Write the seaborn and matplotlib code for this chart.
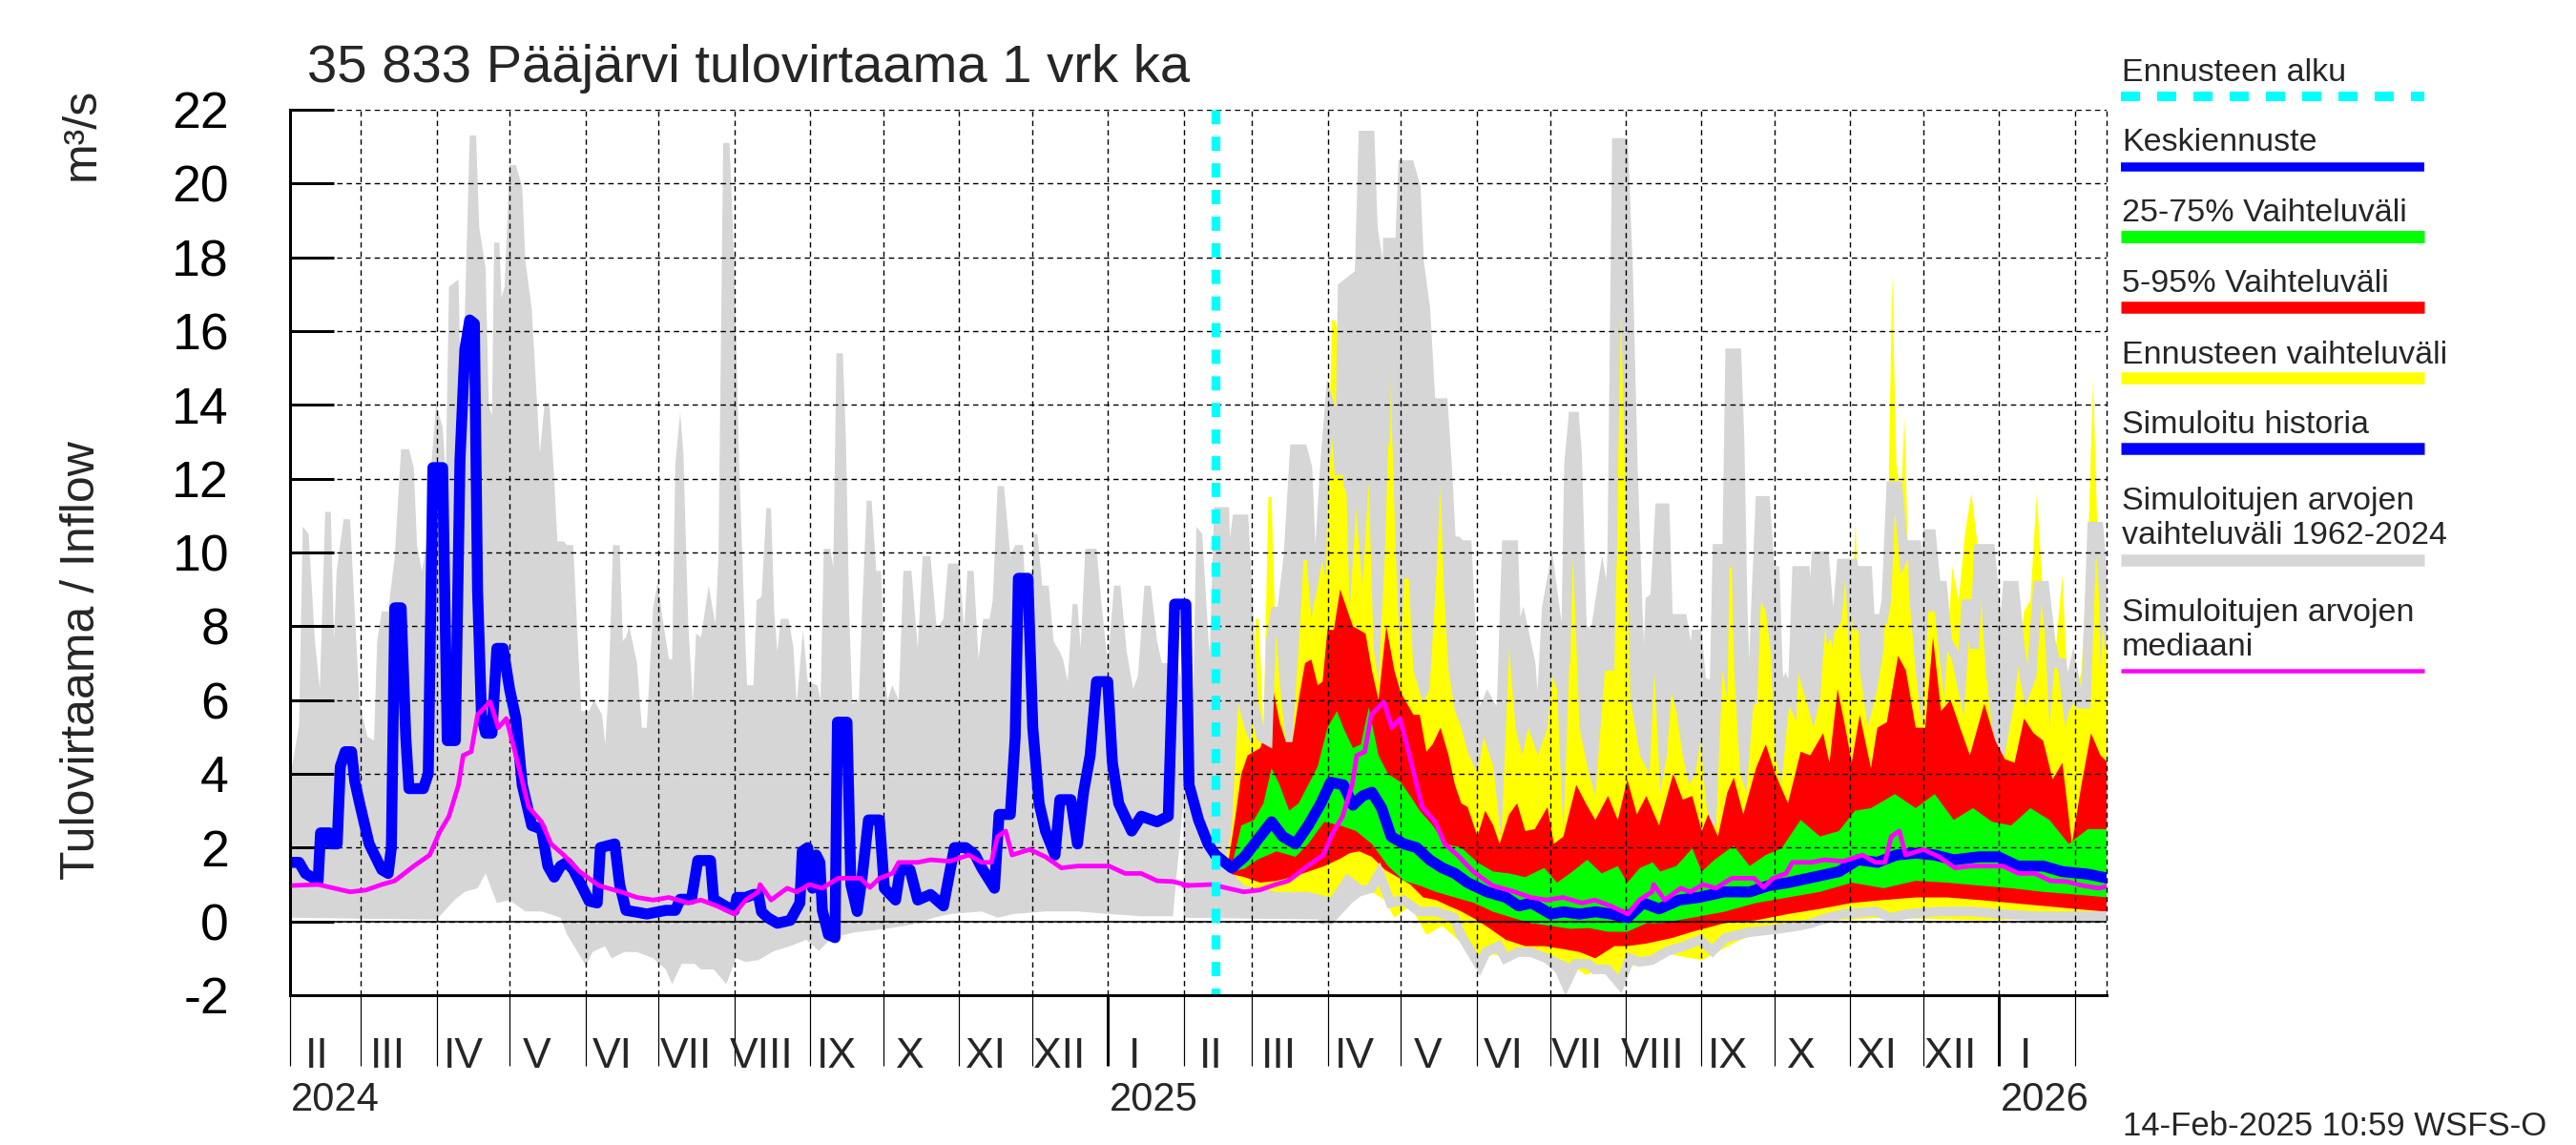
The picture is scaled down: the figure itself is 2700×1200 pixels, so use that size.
import numpy as np
import pandas as pd
import matplotlib
matplotlib.use("Agg")
import matplotlib.pyplot as plt
import matplotlib.dates as mdates
from matplotlib.lines import Line2D
import seaborn as sns

# ---------------- DATA ----------------
# Climatology 1962-2024 (day offset from 1 Feb), same for every year
clim_start_years = ["2024-02-01", "2025-02-01"]
clim_up_day = [0, 3.7, 5.2, 7.6, 10.2, 12.2, 14.4, 16.7, 18, 19.1, 21.9, 24.6, 26.5, 28.5, 31.7, 34.4, 35.7, 37.6, 40.2, 42.9,
               45.5, 48.7, 50.7, 52, 54, 55.9, 57.9, 59.8, 62.5, 63.8, 65.1, 69, 70, 71.6, 73.6, 76.2, 77.5, 80.1, 81.4, 82.7,
               83.6, 85.7, 86.6, 87.9, 89.9, 92.5, 95.1, 96.4, 99, 102.3, 104.3, 106.2, 108.2, 109.5, 112.1, 113.4, 116, 118,
               119.3, 122.5, 124.5, 127.8, 129.1, 130.4, 132.3, 135, 136.3, 137.6, 138.9, 142.1, 144.1, 146.1, 148.7, 150.6,
               152.6, 155.2, 156.5, 157.8, 159.8, 161.1, 163.1, 165, 166.3, 168.3, 171.5, 174.2, 175.5, 177.4, 180, 182, 184,
               186, 187.2, 189.8, 191.1, 193.1, 195.1, 197, 198.3, 199.6, 200.9, 204.2, 206.2, 207.5, 210.1, 212, 216, 217.3,
               218.6, 221.2, 222.5, 223.8, 226.4, 227.7, 229, 230.3, 233, 234.3, 236.2, 238.2, 240.1, 242.1, 243.4, 244.7,
               246.7, 249.3, 251.2, 254.5, 257.1, 259.1, 262.3, 264.9, 267.6, 269.5, 274.1, 276.1, 277.4, 280, 282, 283.9,
               286.5, 287.8, 289.8, 292.4, 295, 297, 300.2, 302.2, 304.8, 306.1, 308.1, 310.7, 312.7, 315.3, 316.6, 318.5,
               320.5, 322.5, 323.8, 325.7, 330.3, 332.2, 334.9, 337.5, 340.1, 342.7, 345.3, 347.3, 349.9, 352.5, 355.1,
               357.1, 359.7, 361.6, 364.3, 366.9, 369.5, 372.1, 374.7, 377.3, 379.3, 381.2]
clim_up_val = [3.9, 5.3, 10.7, 10.5, 7.6, 6.3, 11.1, 11.1, 7.6, 9.5, 10.9, 10.9, 8.4, 5.9, 5.0, 4.9, 7.6, 8.4, 8.4, 9.9,
               12.8, 12.8, 12.3, 10.2, 9.5, 10.2, 12.4, 14.0, 13.4, 12.1, 17.2, 17.4, 14.3, 16.5, 21.3, 21.3, 18.8, 17.7, 14.0, 13.7,
               18.4, 18.4, 16.9, 17.2, 20.5, 20.5, 19.9, 17.9, 16.6, 12.7, 14.05, 14.05, 12.0, 10.3, 10.3, 10.2, 10.2, 7.4,
               5.7, 5.7, 6.0, 5.6, 4.8, 6.2, 10.2, 10.2, 7.6, 7.7, 8.0, 7.0, 5.25, 5.25, 8.5, 9.2,
               8.2, 7.1, 7.1, 12.4, 13.8, 12.7, 8.05, 5.9, 7.8, 7.7, 9.1, 8.05, 9.9, 21.1, 21.1, 17.7, 12.3,
               8.4, 6.4, 6.4, 8.7, 8.8, 11.2, 11.2, 8.4, 7.3, 8.2, 8.2, 7.4, 5.9, 7.9, 6.5, 6.4, 6.0,
               10.1, 10.1, 9.6, 15.4, 15.4, 13.0, 8.4, 5.9, 6.0, 8.4, 11.4, 11.4, 9.5, 9.5, 6.8, 6.0,
               6.4, 6.0, 9.5, 9.5, 7.4, 9.9, 9.9, 7.9, 8.2, 9.7, 9.7, 7.9, 9.5, 9.5, 7.1, 8.2,
               8.2, 8.7, 11.8, 11.8, 9.9, 10.2, 10.2, 7.7, 10.5, 10.5, 9.1, 9.1, 7.6, 7.3, 7.1, 6.5,
               8.6, 8.6, 7.4, 10.1, 10.1, 8.7, 7.0, 9.1, 9.1, 7.3, 6.3, 6.65, 9.1, 9.1, 7.6,
               7.0, 7.0, 6.0, 6.8, 5.9, 5.9, 10.7, 10.7, 8.7, 7.4, 11.1]
clim_lo_day = [0, 57, 60, 67.7, 71.6, 76.8, 80.1, 84.7, 89.9, 96.4, 103, 110.8, 113.4, 121.2, 123.9, 129, 131.7, 136.9,
               142.1, 148.7, 153.9, 156.5, 160.4, 165.7, 168.3, 173.5, 178.7, 182.7, 186.6, 191.8, 198.3, 204.9, 211.4,
               216.6, 221.8, 231, 244, 251.9, 257.1, 263.7, 270.2, 283.3, 289.8, 296.3, 309.4, 322.5, 335.5, 348.6,
               361.6, 381.2]
clim_lo_val = [0.1, 0.05, 0.05, 0.6, 0.8, 0.9, 1.3, 0.5, 0.58, 0.27, 0.27, 0.1, -0.35, -1.2, -0.83, -0.67, -1.0, -0.83,
               -0.83, -1.0, -1.3, -1.7, -1.15, -1.15, -1.3, -1.3, -1.7, -1.0, -1.1, -1.05, -0.8, -0.67, -0.5,
               -0.8, -0.45, -0.3, -0.2, -0.12, -0.05, 0.1, 0.2, 0.27, 0.1, 0.2, 0.27, 0.27, 0.2, 0.14,
               0.14, 0.15]
clim_med_day = [0, 11.5, 24.6, 31.1, 37.6, 42.9, 50.7, 57.2, 61.1, 65.1, 69, 70.9, 74.2, 76.8, 82, 85.3, 88.6, 92.5, 97.7,
                103, 106.9, 112.1, 118.6, 126.5, 135.6, 142.1, 148.7, 155.2, 163.1, 168.3, 174.8, 182, 186.6, 191.8, 192.5,
                197, 203.6, 207.5, 212.7, 217.9, 224.5, 233.6, 237.5, 241.4, 246.7, 249.3, 257.1, 262.3, 270.2, 278, 283.3,
                287.2, 289.8, 293.1, 295.7, 302.9, 309.4, 315.9, 322.5, 329, 335.5, 342, 348.6, 355.1, 361.6, 368.2, 374.7,
                381.2]
clim_med_val = [0.97, 1.0, 0.8, 0.85, 1.0, 1.1, 1.5, 1.8, 2.4, 2.85, 3.7, 4.5, 4.6, 5.6, 5.95, 5.25, 5.5, 4.5, 3.1,
                2.7, 2.1, 1.8, 1.35, 0.97, 0.8, 0.65, 0.58, 0.65, 0.5, 0.58, 0.42, 0.2, 0.58, 0.8, 1.0,
                0.58, 0.9, 0.8, 1.0, 0.9, 1.17, 1.17, 0.92, 1.17, 1.3, 1.6, 1.6, 1.67, 1.63, 1.8, 1.6,
                1.6, 2.3, 2.45, 1.8, 1.95, 1.75, 1.45, 1.5, 1.5, 1.5, 1.3, 1.3, 1.1, 1.08, 0.97, 0.9,
                1.0]

# Simulated history (day offset from 1 Feb 2024)
hist_start = "2024-02-01"
hist_day = [0, 3.7, 6.3, 10.2, 11.5, 12.5, 16.1, 16.7, 19.3, 20.6, 22.6, 25.2, 26.5, 28.5, 32.4, 37.6, 40.2, 41.5, 42.9,
            45.5, 47.4, 48.7, 52, 54.6, 56.6, 58.5, 62.5, 64.4, 67.7, 69.6, 71.6, 73.6, 75.5, 76.8, 78.4, 80.1, 82.7, 84.7,
            87.3, 89.9, 92.5, 95.1, 99, 103, 105.6, 108.2, 110.8, 113.4, 116, 119.9, 122.5, 125.8, 127.1, 133, 135, 137.6,
            142.1, 146.1, 153.9, 157.8, 159.8, 164.4, 167, 172.2, 173.5, 178.7, 182, 183, 186.6, 189.8, 191.8, 193.1,
            195.7, 199.6, 204.9, 208.8, 209.8, 212, 214, 215.5, 217, 218, 220.5, 223.2, 224.2, 228.1, 229.7, 232.3, 234.3,
            236.9, 241.4, 243.4, 248, 249.9, 253.9, 257.1, 262.3, 267.6, 272.1, 276.7, 280.6, 283.3, 288.5, 290.4, 295,
            297, 298.3, 302.2, 304.2, 306.8, 309.4, 313.3, 315.3, 319.8, 322.5, 325, 327.7, 330.3, 334.9, 336.8, 339.4,
            344.7, 348.6, 355.1, 359.7, 362.3, 366.9, 368.2, 372.1, 376, 379]
hist_val = [1.6, 1.6, 1.3, 1.15, 1.1, 2.4, 2.4, 2.1, 2.1, 4.2, 4.6, 4.6, 3.8, 3.2, 2.1, 1.4, 1.3, 2.0, 8.5,
            8.5, 5.0, 3.6, 3.6, 3.6, 4.0, 12.3, 12.3, 4.9, 4.9, 12.5, 15.5, 16.3, 16.2, 9.0, 5.6, 5.1, 5.1, 7.4,
            7.4, 6.3, 5.5, 3.7, 2.6, 2.5, 1.5, 1.2, 1.5, 1.6, 1.4, 0.9, 0.55, 0.5, 2.0, 2.1, 1.0, 0.3,
            0.25, 0.2, 0.3, 0.3, 0.6, 0.6, 1.65, 1.65, 0.6, 0.4, 0.3, 0.65, 0.65, 0.73, 0.73, 0.26,
            0.1, -0.05, 0.03, 0.5, 1.9, 2.0, 0.9, 1.8, 1.6, 0.3, -0.36, -0.44, 5.4, 5.4, 1.0, 0.27, 1.2,
            2.75, 2.75, 0.9, 0.58, 1.4, 1.4, 0.58, 0.73, 0.42, 2.0, 2.0, 1.8, 1.45, 0.9, 2.9, 2.9,
            5.0, 9.3, 9.3, 5.25, 3.2, 2.45, 1.8, 3.3, 3.3, 2.1, 3.5, 4.5, 6.5, 6.5, 4.3, 3.2,
            2.45, 2.85, 2.7, 2.85, 8.6, 8.6, 3.7, 2.75, 2.1, 1.8]

# Forecast (day offset from 14 Feb 2025)
fc_start = "2025-02-14"
yel_hi_day = [0, 4.1, 6.7, 9.3, 11.9, 14.5, 16.5, 17.8, 19.7, 21.7, 23, 24.3, 26.3, 28.9, 31.5, 34.1, 36.1, 37.4, 39.3,
              41.3, 43.2, 45.2, 46.5, 47.8, 49.1, 51.1, 52.4, 53.7, 55, 57.6, 60.2, 62.8, 64.8, 66.8, 69.4, 71.6, 73.9,
              75.9, 77.2, 79.2, 81.1, 85.1, 87.7, 90.3, 92.2, 93.5, 95.5, 98.1, 100.7, 103.3, 107.3, 109.9, 113.8, 117.1,
              120.3, 122.9, 125.6, 128.2, 132.1, 136, 138, 139.9, 142.5, 146.5, 149.1, 153, 155.6, 159.5, 163.4, 166.1,
              168, 170, 173.9, 177.8, 179.8, 182.2, 184.9, 186.8, 188.8, 191.4, 194, 196.6, 198.6, 201.2, 203.1, 205.1,
              207.7, 209.7, 211, 212.5, 214.9, 217.5, 221.4, 223.4, 225.4, 227.3, 229.3, 231.9, 234.5, 238.4, 242.3,
              244.9, 247.6, 250.2, 252.8, 256.1, 258, 260, 262.2, 263.9, 267.2, 271.1, 273.7, 275.7, 277.2, 278.9,
              280.9, 282.2, 284.1, 286.8, 289.4, 292, 294.6, 298.5, 301.8, 304.4, 307, 309.6, 312.2, 315.5, 318.1,
              320.7, 323.3, 327.3, 331.2, 333.8, 336.4, 339, 341.6, 344.2, 346.9, 349.5, 352.1, 354.7, 357.3, 359.5,
              361.2, 362.5, 364.5, 365.5]
yel_hi_val = [1.8, 1.67, 2.45, 5.9, 5.25, 4.8, 8.2, 8.2, 5.1, 11.5, 11.5, 8.4, 6.5, 4.8, 4.9, 7.4, 9.8, 9.8, 8.2,
              9.0, 9.9, 9.3, 13.0, 16.3, 16.3, 15.7, 11.8, 11.6, 8.4, 11.2, 9.1, 11.9, 7.4, 6.5, 9.9, 14.9, 9.9,
              6.8, 9.3, 9.3, 6.8, 5.9, 6.3, 9.1, 11.8, 9.1, 6.8, 5.7, 5.25, 4.6, 4.0, 5.0, 4.2, 2.2,
              7.4, 5.25, 4.5, 5.25, 4.5, 5.25, 6.65, 6.3, 2.4, 9.9, 5.25, 4.0, 3.4, 6.8, 6.8, 16.5,
              11.5, 6.0, 4.5, 4.0, 6.8, 3.5, 4.5, 6.2, 5.7, 4.5, 3.7, 4.0, 4.9, 3.07, 2.6, 2.6,
              6.8, 6.0, 11.2, 6.8, 4.0, 3.5, 6.8, 8.7, 8.4, 7.4, 4.5, 3.7, 5.6, 6.8, 5.9,
              5.25, 6.0, 8.4, 7.4, 9.8, 9.3, 6.8, 10.9, 6.8, 5.25, 6.3, 7.4, 11.5, 17.55, 12.4,
              11.5, 13.7, 8.85, 6.8, 5.25, 8.4, 8.4, 6.0, 9.6, 8.7, 10.5, 11.6, 10.2, 6.8, 5.25,
              4.3, 4.5, 6.0, 8.4, 8.7, 11.6, 8.8, 5.25, 7.4, 9.4, 5.7, 6.0, 6.8, 9.9, 14.7,
              10.7, 6.8, 9.6, 5.9]
yel_lo_day = [0, 11.9, 25, 38, 47.2, 53.7, 61.5, 69.4, 73.3, 79.8, 86.4, 92.9, 99.4, 107.3, 113.8, 121.6, 129.5, 137.3,
              145.2, 151.7, 158.2, 166.1, 173.9, 187, 199.2, 214.9, 228, 241, 254.1, 273.7, 312.9, 339, 365.5]
yel_lo_val = [1.8, 0.97, 0.8, 0.8, 0.65, 1.3, 0.9, 0.58, 0.1, 0.42, -0.36, -0.12, -0.5, -1.06, -0.9, -1.0, -0.9, -0.9,
              -1.15, -1.45, -1.3, -1.45, -1.06, -0.9, -1.05, -0.5, -0.2, -0.12, 0.03, 0.1, 0.03, 0.07, 0.06]
red_hi_day = [0, 5.4, 8, 10.6, 13.2, 15.8, 18.4, 21, 23.6, 26.3, 28.9, 31.5, 34.1, 36.7, 39.3, 41.9, 43.9, 45.9, 48.5,
              51.1, 53.7, 56.3, 58.9, 61.5, 64.1, 66.8, 70, 73.3, 75.9, 78.5, 81.1, 83.7, 86.4, 89, 92.2, 95.5, 98.1,
              100.7, 103.3, 107.3, 110.5, 113.8, 116.4, 120.3, 123.6, 126.9, 130.8, 136, 138.6, 142.5, 147.8, 151.7,
              155.6, 160.8, 164.8, 168.7, 172.6, 176.5, 181.7, 187.5, 191.4, 195.3, 199.2, 201.8, 205.8, 209.7, 212.3,
              216.2, 221.4, 225.4, 229.3, 234.5, 239.7, 243.6, 248.9, 251.5, 254.8, 258, 260.6, 263.9, 268.5, 271.1,
              275, 279.6, 282.8, 286.8, 290.7, 293.9, 297.2, 301.1, 305, 309, 314.9, 319.4, 323.3, 327.3, 331.2, 335.1,
              339, 342.9, 346.9, 350.8, 354.7, 358.6, 362.5, 365.5]
red_hi_val = [1.8, 1.67, 2.75, 4.0, 4.5, 4.6, 4.7, 5.25, 6.3, 5.4, 4.86, 4.86, 6.0, 7.0, 7.1, 6.4, 6.5, 7.9, 7.9,
              9.0, 8.5, 8.0, 7.9, 7.8, 6.8, 6.0, 8.0, 6.8, 6.2, 5.9, 5.6, 5.6, 4.6, 4.8, 5.25, 4.5, 3.7,
              3.2, 3.1, 2.3, 3.0, 2.6, 2.1, 2.9, 3.2, 2.45, 2.5, 3.1, 2.1, 2.3, 3.7, 3.2,
              2.75, 3.4, 2.75, 3.85, 2.9, 3.4, 2.6, 4.0, 3.3, 3.4, 2.45, 2.9, 2.3, 3.5, 3.9,
              2.9, 4.15, 4.8, 4.0, 3.2, 4.6, 4.5, 5.1, 4.3, 6.3, 5.25, 4.3, 5.6, 4.15, 5.25,
              5.4, 7.2, 6.8, 5.25, 5.25, 7.7, 5.7, 6.0, 5.25, 4.5, 5.9, 4.9, 4.4, 4.3, 5.5, 5.1,
              4.9, 3.85, 4.3, 2.1, 3.7, 5.1, 4.5, 4.3]
red_lo_day = [0, 6.7, 11.9, 18.4, 25, 31.5, 38, 44.6, 51.1, 55, 58.9, 64.1, 69.4, 74.6, 79.8, 85.1, 90.3, 95.5, 100.7,
              107.3, 112.5, 119, 126.9, 134.7, 142.5, 149.1, 155.6, 163.4, 168.7, 176.5, 187, 195.3, 208.4, 221.4,
              234.5, 247.6, 260.6, 273.7, 286.8, 299.8, 312.9, 325.9, 339, 352.1, 365.5]
red_lo_val = [1.8, 1.28, 1.2, 1.05, 1.1, 1.2, 1.35, 1.5, 1.7, 1.85, 1.9, 1.75, 1.4, 1.2, 1.0, 0.65, 0.58, 0.42, 0.27,
              0.03, -0.2, -0.5, -0.67, -0.67, -0.75, -0.83, -1.0, -0.67, -0.67, -0.6, -0.45, -0.28, -0.05, 0.03,
              0.2, 0.34, 0.5, 0.58, 0.65, 0.65, 0.58, 0.5, 0.42, 0.34, 0.26]
grn_hi_day = [0, 6.7, 10.6, 15.8, 19.7, 23, 26.3, 30.2, 34.1, 38, 41.9, 45.9, 49.8, 52.4, 56.3, 59.6, 62.8, 66.8, 70.7,
              75.9, 79.8, 83.7, 89, 94.2, 100.7, 107.3, 113.8, 120.3, 126.9, 134.7, 139.9, 145.2, 152.3, 158.2, 164.8,
              168.7, 173.9, 179.1, 182.2, 188.8, 195.3, 199.2, 204.4, 212.3, 218.8, 225.4, 231.9, 239.7, 247.6, 255.4,
              261.9, 268.5, 278.3, 286.8, 294.6, 302.4, 310.3, 318.1, 325.9, 333.8, 341.6, 349.5, 357.3, 365.5]
grn_hi_val = [1.8, 1.5, 2.6, 2.75, 3.2, 4.15, 3.7, 3.0, 3.2, 3.7, 4.2, 5.25, 5.7, 5.25, 4.7, 4.8, 5.8, 4.5, 4.0,
              3.77, 3.4, 3.0, 2.6, 2.1, 2.0, 1.6, 1.35, 1.3, 1.2, 1.45, 1.05, 1.3, 1.67, 1.3, 1.5,
              1.05, 1.45, 1.6, 1.35, 1.5, 1.98, 1.35, 1.67, 2.05, 1.5, 1.8, 1.98, 2.75, 2.3, 2.45,
              3.0, 3.07, 3.45, 3.07, 3.45, 2.75, 3.07, 2.7, 2.6, 3.07, 2.75, 2.1, 2.5, 2.5]
grn_lo_day = [0, 6.7, 11.9, 17.1, 25, 32.8, 38, 44.6, 51.1, 57.6, 64.1, 70.7, 77.2, 83.7, 90.3, 98.1, 106, 113.8, 121.6,
              129.5, 137.3, 145.2, 153, 160.8, 168.7, 176.5, 182.2, 195.3, 208.4, 221.4, 234.5, 247.6, 260.6, 273.7,
              286.8, 299.8, 312.9, 325.9, 339, 352.1, 365.5]
grn_lo_val = [1.8, 1.35, 1.43, 1.67, 1.9, 1.75, 2.1, 2.7, 2.6, 2.45, 2.1, 1.5, 1.1, 0.97, 0.8, 0.65, 0.5, 0.26, 0.1,
              -0.05, -0.12, -0.2, -0.18, -0.28, -0.28, -0.05, -0.05, 0.1, 0.26, 0.5, 0.65, 0.8, 1.05, 0.9,
              1.1, 1.05, 0.97, 0.9, 0.8, 0.73, 0.65]
mean_day = [0, 6.7, 11.9, 17.1, 23, 27.6, 32.8, 38, 43.2, 47.2, 52.4, 56.3, 60.2, 64.1, 68.1, 72, 77.2, 82.4, 87.7, 92.9,
            98.1, 103.3, 111.2, 119, 124.2, 129.5, 137.3, 142.5, 149.1, 155.6, 162.1, 168.7, 175.2, 181.7, 190, 197.9,
            208.4, 218.8, 226.7, 234.5, 245, 255.4, 263.2, 271.1, 278.9, 286.8, 294.6, 302.4, 312.9, 320.7, 328.6, 339,
            346.9, 357.3, 365.5]
mean_val = [1.8, 1.45, 1.75, 2.2, 2.7, 2.3, 2.1, 2.6, 3.2, 3.77, 3.7, 3.15, 3.4, 3.5, 3.07, 2.3, 2.1, 2.0, 1.67, 1.45,
            1.3, 1.05, 0.8, 0.65, 0.42, 0.5, 0.2, 0.26, 0.2, 0.26, 0.2, 0.1, 0.5, 0.34, 0.58, 0.65,
            0.8, 0.8, 0.97, 1.05, 1.2, 1.35, 1.67, 1.6, 1.8, 1.85, 1.8, 1.67, 1.75, 1.75, 1.5, 1.5,
            1.35, 1.28, 1.17]

roman = ["I", "II", "III", "IV", "V", "VI", "VII", "VIII", "IX", "X", "XI", "XII"]
title_text = "35 833 Pääjärvi tulovirtaama 1 vrk ka"
ylabel_text = "Tulovirtaama / Inflow"
yunit_text = "m³/s"
stamp_text = "14-Feb-2025 10:59 WSFS-O"
legend_items = [
    ("Ennusteen alku", "#00ffff"),
    ("Keskiennuste", "#0000ff"),
    ("25-75% Vaihteluväli", "#00ff00"),
    ("5-95% Vaihteluväli", "#ff0000"),
    ("Ennusteen vaihteluväli", "#ffff00"),
    ("Simuloitu historia", "#0000ff"),
    ("Simuloitujen arvojen\nvaihteluväli 1962-2024", "#d6d6d6"),
    ("Simuloitujen arvojen\nmediaani", "#ff00ff"),
]

# ---------------- STYLE ----------------
sns.set_theme(style="white")
plt.rcParams["font.family"] = ["Liberation Sans", "DejaVu Sans"]
plt.rcParams["axes.unicode_minus"] = False

W, H, DPI = 2700, 1200, 100
PT = 72.0 / DPI  # points per pixel
fig = plt.figure(figsize=(W / DPI, H / DPI), dpi=DPI)
fig.patch.set_facecolor("white")
ax = fig.add_axes([304 / W, 1 - 1043 / H, (2208 - 304) / W, (1043 - 115) / H])
ax.set_facecolor("white")


def dates(start, days):
    return pd.Timestamp(start) + pd.to_timedelta(np.asarray(days, float), unit="D")


def num(start, days):
    return mdates.date2num(dates(start, days).values)


def band(start_hi, dhi, vhi, start_lo, dlo, vlo, color, z, mask_hi=None, mask_lo=None):
    xh, yh = num(start_hi, dhi), np.asarray(vhi, float)
    xl, yl = num(start_lo, dlo), np.asarray(vlo, float)
    if mask_hi is not None:
        xh, yh = xh[mask_hi], yh[mask_hi]
        xl, yl = xl[mask_lo], yl[mask_lo]
    ax.fill(np.concatenate([xh, xl[::-1]]), np.concatenate([yh, yl[::-1]]), color=color, lw=0, zorder=z)


GRAY = "#d6d6d6"
up_d = np.asarray(clim_up_day, float)
lo_d = np.asarray(clim_lo_day, float)
band(clim_start_years[0], clim_up_day, clim_up_val, clim_start_years[0], clim_lo_day, clim_lo_val, GRAY, 1,
     up_d < 370, lo_d < 370)
band(clim_start_years[1], clim_up_day, clim_up_val, clim_start_years[1], clim_lo_day, clim_lo_val, GRAY, 1)

band(fc_start, yel_hi_day, yel_hi_val, fc_start, yel_lo_day, yel_lo_val, "#ffff00", 1.2)
band(fc_start, red_hi_day, red_hi_val, fc_start, red_lo_day, red_lo_val, "#ff0000", 1.4)
band(fc_start, grn_hi_day, grn_hi_val, fc_start, grn_lo_day, grn_lo_val, "#00ff00", 1.6)

fc0 = pd.Timestamp(fc_start)
cu = pd.DataFrame({"t": dates(clim_start_years[1], clim_up_day), "v": clim_up_val})
cl = pd.DataFrame({"t": dates(clim_start_years[1], clim_lo_day), "v": clim_lo_val})
for df in (cu, cl):
    sub = df[df["t"] >= fc0 - pd.Timedelta(days=2)]
    sns.lineplot(data=sub, x="t", y="v", ax=ax, color=GRAY, lw=10 * PT, estimator=None, sort=False,
                 zorder=1.8, solid_joinstyle="miter")

BLUE_LW = 11.5 * PT
hist = pd.DataFrame({"t": dates(hist_start, hist_day), "v": hist_val})
sns.lineplot(data=hist, x="t", y="v", ax=ax, color="#0000ff", lw=BLUE_LW, estimator=None, sort=False, zorder=4)
fc_mean = pd.DataFrame({"t": dates(fc_start, mean_day), "v": mean_val})
sns.lineplot(data=fc_mean, x="t", y="v", ax=ax, color="#0000ff", lw=BLUE_LW, estimator=None, sort=False, zorder=4)

for ys in clim_start_years:
    med = pd.DataFrame({"t": dates(ys, clim_med_day), "v": clim_med_val})
    if ys == clim_start_years[0]:
        med = med[med["t"] < pd.Timestamp(clim_start_years[1]) + pd.Timedelta(days=4)]
    sns.lineplot(data=med, x="t", y="v", ax=ax, color="#ff00ff", lw=4.8 * PT, estimator=None, sort=False, zorder=5)

ax.axvline(mdates.date2num(fc0), color="#00ffff", lw=9.3 * PT, ls=(0.8, (1.6, 1.4)), zorder=6)

# ---------------- AXES ----------------
x0 = pd.Timestamp("2024-02-01")
x1 = pd.Timestamp("2026-02-14")
ax.set_xlim(mdates.date2num(x0), mdates.date2num(x1))
ax.set_ylim(-2, 22)
ax.set_xlabel("")
ax.set_ylabel("")

ax.yaxis.set_major_locator(matplotlib.ticker.MultipleLocator(2))
ax.tick_params(axis="y", direction="in", length=46 * PT, width=3 * PT, labelsize=38.5, pad=46, colors="black",
               left=True)
ax.xaxis.set_major_locator(mdates.YearLocator())
ax.xaxis.set_minor_locator(mdates.MonthLocator())
ax.tick_params(axis="x", which="major", direction="out", length=74 * PT, width=3 * PT, labelbottom=False,
               bottom=True, colors="black")
ax.tick_params(axis="x", which="minor", direction="out", length=74 * PT, width=1.2 * PT, labelbottom=False,
               bottom=True, colors="black")

grid_kw = dict(color="black", lw=1.4 * PT, ls=(0, (4, 3)))
ax.grid(True, which="major", axis="y", **grid_kw)
ax.grid(True, which="both", axis="x", **grid_kw)
ax.set_axisbelow(False)
ax.axhline(0, color="black", lw=1.6 * PT, zorder=3)

for s in ("top", "right"):
    ax.spines[s].set_visible(False)
for s in ("left", "bottom"):
    ax.spines[s].set_linewidth(3 * PT)
    ax.spines[s].set_color("black")
    ax.spines[s].set_zorder(7)
ax.plot([1, 1], [0, 1], transform=ax.transAxes, clip_on=False, **grid_kw)

trans = ax.get_xaxis_transform()
months = pd.date_range("2024-02-01", "2026-01-01", freq="MS")
for m in months:
    ax.text(mdates.date2num(m + pd.Timedelta(days=11)), -0.070, roman[m.month - 1], transform=trans,
            ha="center", va="center", fontsize=32, clip_on=False)
for ylab, ydate in (("2024", "2024-02-01"), ("2025", "2025-01-01"), ("2026", "2026-01-01")):
    ax.text(mdates.date2num(pd.Timestamp(ydate)) + 0.5, -0.1185, ylab, transform=trans, ha="left", va="center",
            fontsize=30, clip_on=False)

fig.text(322 / W, 1 - 86 / H, title_text, fontsize=40.5, ha="left", va="baseline")
fig.text(86 / W, 1 - 692 / H, ylabel_text, fontsize=36, rotation=90, ha="center", va="center")
fig.text(86 / W, 1 - 140 / H, yunit_text, fontsize=36, rotation=90, ha="center", va="center")
fig.text(2225 / W, 1 - 1190 / H, stamp_text, fontsize=25, ha="left", va="baseline")

leg_base = [85, 158, 232, 306.5, 381, 454, 570, 687]
leg_line = [101, 175, 248, 322, 396, 470, 587, 703]
leg_lw = [10, 9.5, 13, 12.5, 12.5, 12.5, 12.5, 4.5]
for (lab, col), yb, yl, lw in zip(legend_items, leg_base, leg_line, leg_lw):
    fig.text(2224 / W, 1 - yb / H, lab, fontsize=24.5, ha="left", va="baseline", linespacing=1.22)
    ls = (0, (2.0, 1.8)) if lab == "Ennusteen alku" else "-"
    fig.add_artist(Line2D([2223 / W, 2541 / W], [1 - yl / H, 1 - yl / H], transform=fig.transFigure,
                          color=col, lw=lw * PT, ls=ls, solid_capstyle="butt", dash_capstyle="butt"))

fig.savefig("out.png", dpi=DPI, facecolor="white")
